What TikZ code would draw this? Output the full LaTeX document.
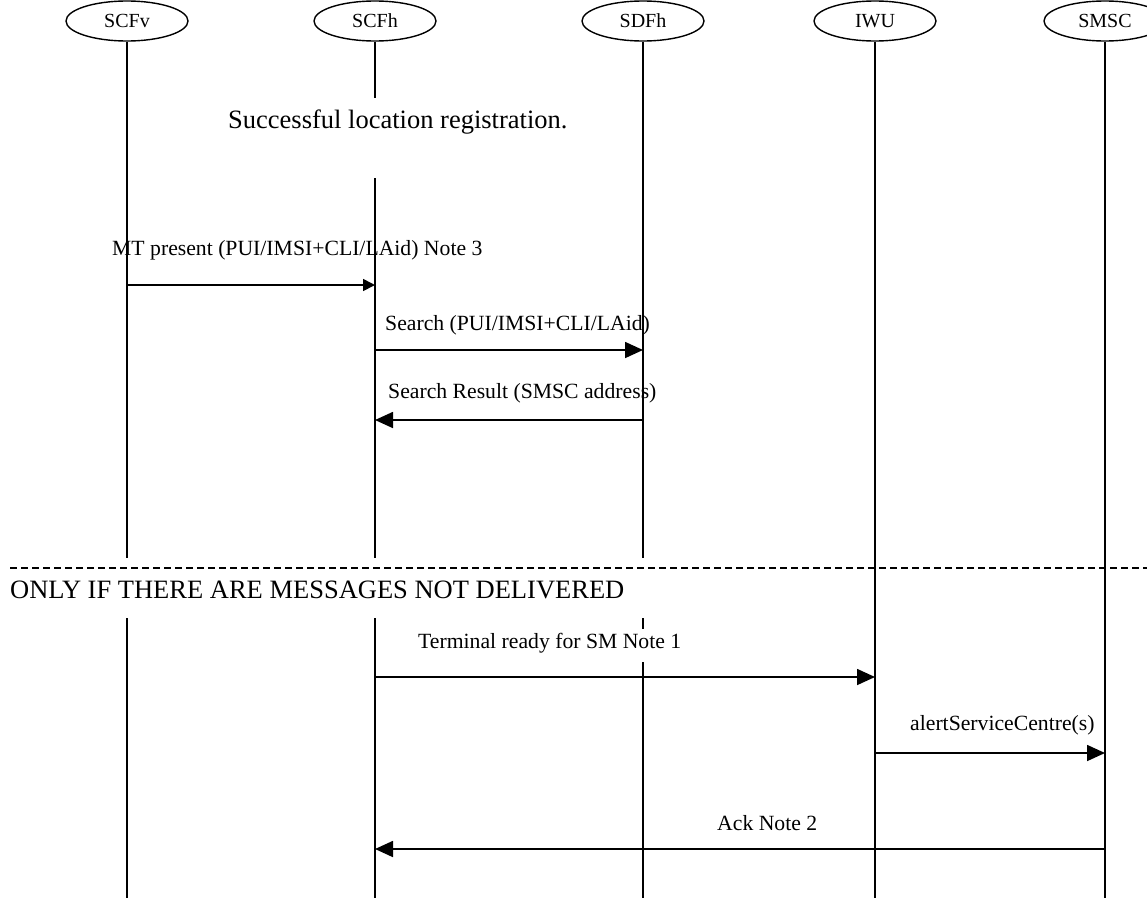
\documentclass[tikz,border=0pt]{standalone}
\usepackage{fontspec}
\setmainfont{Liberation Serif}
\usetikzlibrary{arrows.meta,shapes.geometric}
\begin{document}
\begin{tikzpicture}[x=1pt,y=-1pt,
  ent/.style={draw,line width=1.4pt,ellipse,minimum width=122pt,minimum height=40pt,inner sep=0pt,font=\fontsize{20}{24}\selectfont},
  life/.style={line width=1.4pt},
  msg/.style={line width=1.7pt,-{Triangle[length=18pt,width=16pt]}},
  smallmsg/.style={line width=1.7pt,-{Triangle[length=12pt,width=12pt]}},
  lbl/.style={font=\fontsize{21.7}{24}\selectfont,inner sep=0pt,anchor=west},
  big/.style={font=\fontsize{26.5}{30}\selectfont,inner sep=0pt,anchor=west}]
\useasboundingbox (0,0) rectangle (1147,900);
\clip (0,0) rectangle (1147,900);
% entities
\node[ent] (scfv) at (127,21) {SCFv};
\node[ent] (scfh) at (375,21) {SCFh};
\node[ent] (sdfh) at (643,21) {SDFh};
\node[ent] (iwu) at (875,21) {IWU};
\node[ent] (smsc) at (1105,21) {SMSC};
% lifeline coordinates
\coordinate (v1) at (127,558); \coordinate (v2) at (127,618); \coordinate (v3) at (127,898);
\coordinate (h1) at (375,98); \coordinate (h2) at (375,178); \coordinate (h3) at (375,558);
\coordinate (h4) at (375,618); \coordinate (h5) at (375,898);
\coordinate (d1) at (643,558); \coordinate (d2) at (643,618); \coordinate (d3) at (643,629);
\coordinate (d4) at (643,662); \coordinate (d5) at (643,898);
\coordinate (i1) at (875,898);
\coordinate (s1) at (1105,898);
\draw[life] (scfv) -- (v1) (v2) -- (v3);
\draw[life] (scfh) -- (h1) (h2) -- (h3) (h4) -- (h5);
\draw[life] (sdfh) -- (d1) (d2) -- (d3) (d4) -- (d5);
\draw[life] (iwu) -- (i1);
\draw[life] (smsc) -- (s1);
% texts
\node[big] (succ) at (228,122) {Successful location registration.};
\coordinate (dl) at (10,568); \coordinate (dr) at (1147,568);
\draw[line width=1.2pt,dash pattern=on 7pt off 4pt] (dl) -- (dr);
\node[big] (only) at (10,590) {ONLY IF THERE ARE MESSAGES NOT DELIVERED};
% messages
\coordinate (m1a) at (127,285); \coordinate (m1b) at (375,285);
\draw[smallmsg] (m1a) -- (m1b);
\node[lbl] (l1) at (112,250) {MT present (PUI/IMSI+CLI/LAid) Note 3};
\coordinate (m2a) at (375,350); \coordinate (m2b) at (643,350);
\draw[msg] (m2a) -- (m2b);
\node[lbl] (l2) at (385,325) {Search (PUI/IMSI+CLI/LAid)};
\coordinate (m3a) at (643,420); \coordinate (m3b) at (375,420);
\draw[msg] (m3a) -- (m3b);
\node[lbl] (l3) at (388,393) {Search Result (SMSC address)};
\coordinate (m4a) at (375,677); \coordinate (m4b) at (875,677);
\draw[msg] (m4a) -- (m4b);
\node[lbl] (l4) at (418,643) {Terminal ready for SM Note 1};
\coordinate (m5a) at (875,753); \coordinate (m5b) at (1105,753);
\draw[msg] (m5a) -- (m5b);
\node[lbl] (l5) at (910,725) {alertServiceCentre(s)};
\coordinate (m6a) at (1105,849); \coordinate (m6b) at (375,849);
\draw[msg] (m6a) -- (m6b);
\node[lbl] (l6) at (717,823) {Ack Note 2};
\end{tikzpicture}
\end{document}
